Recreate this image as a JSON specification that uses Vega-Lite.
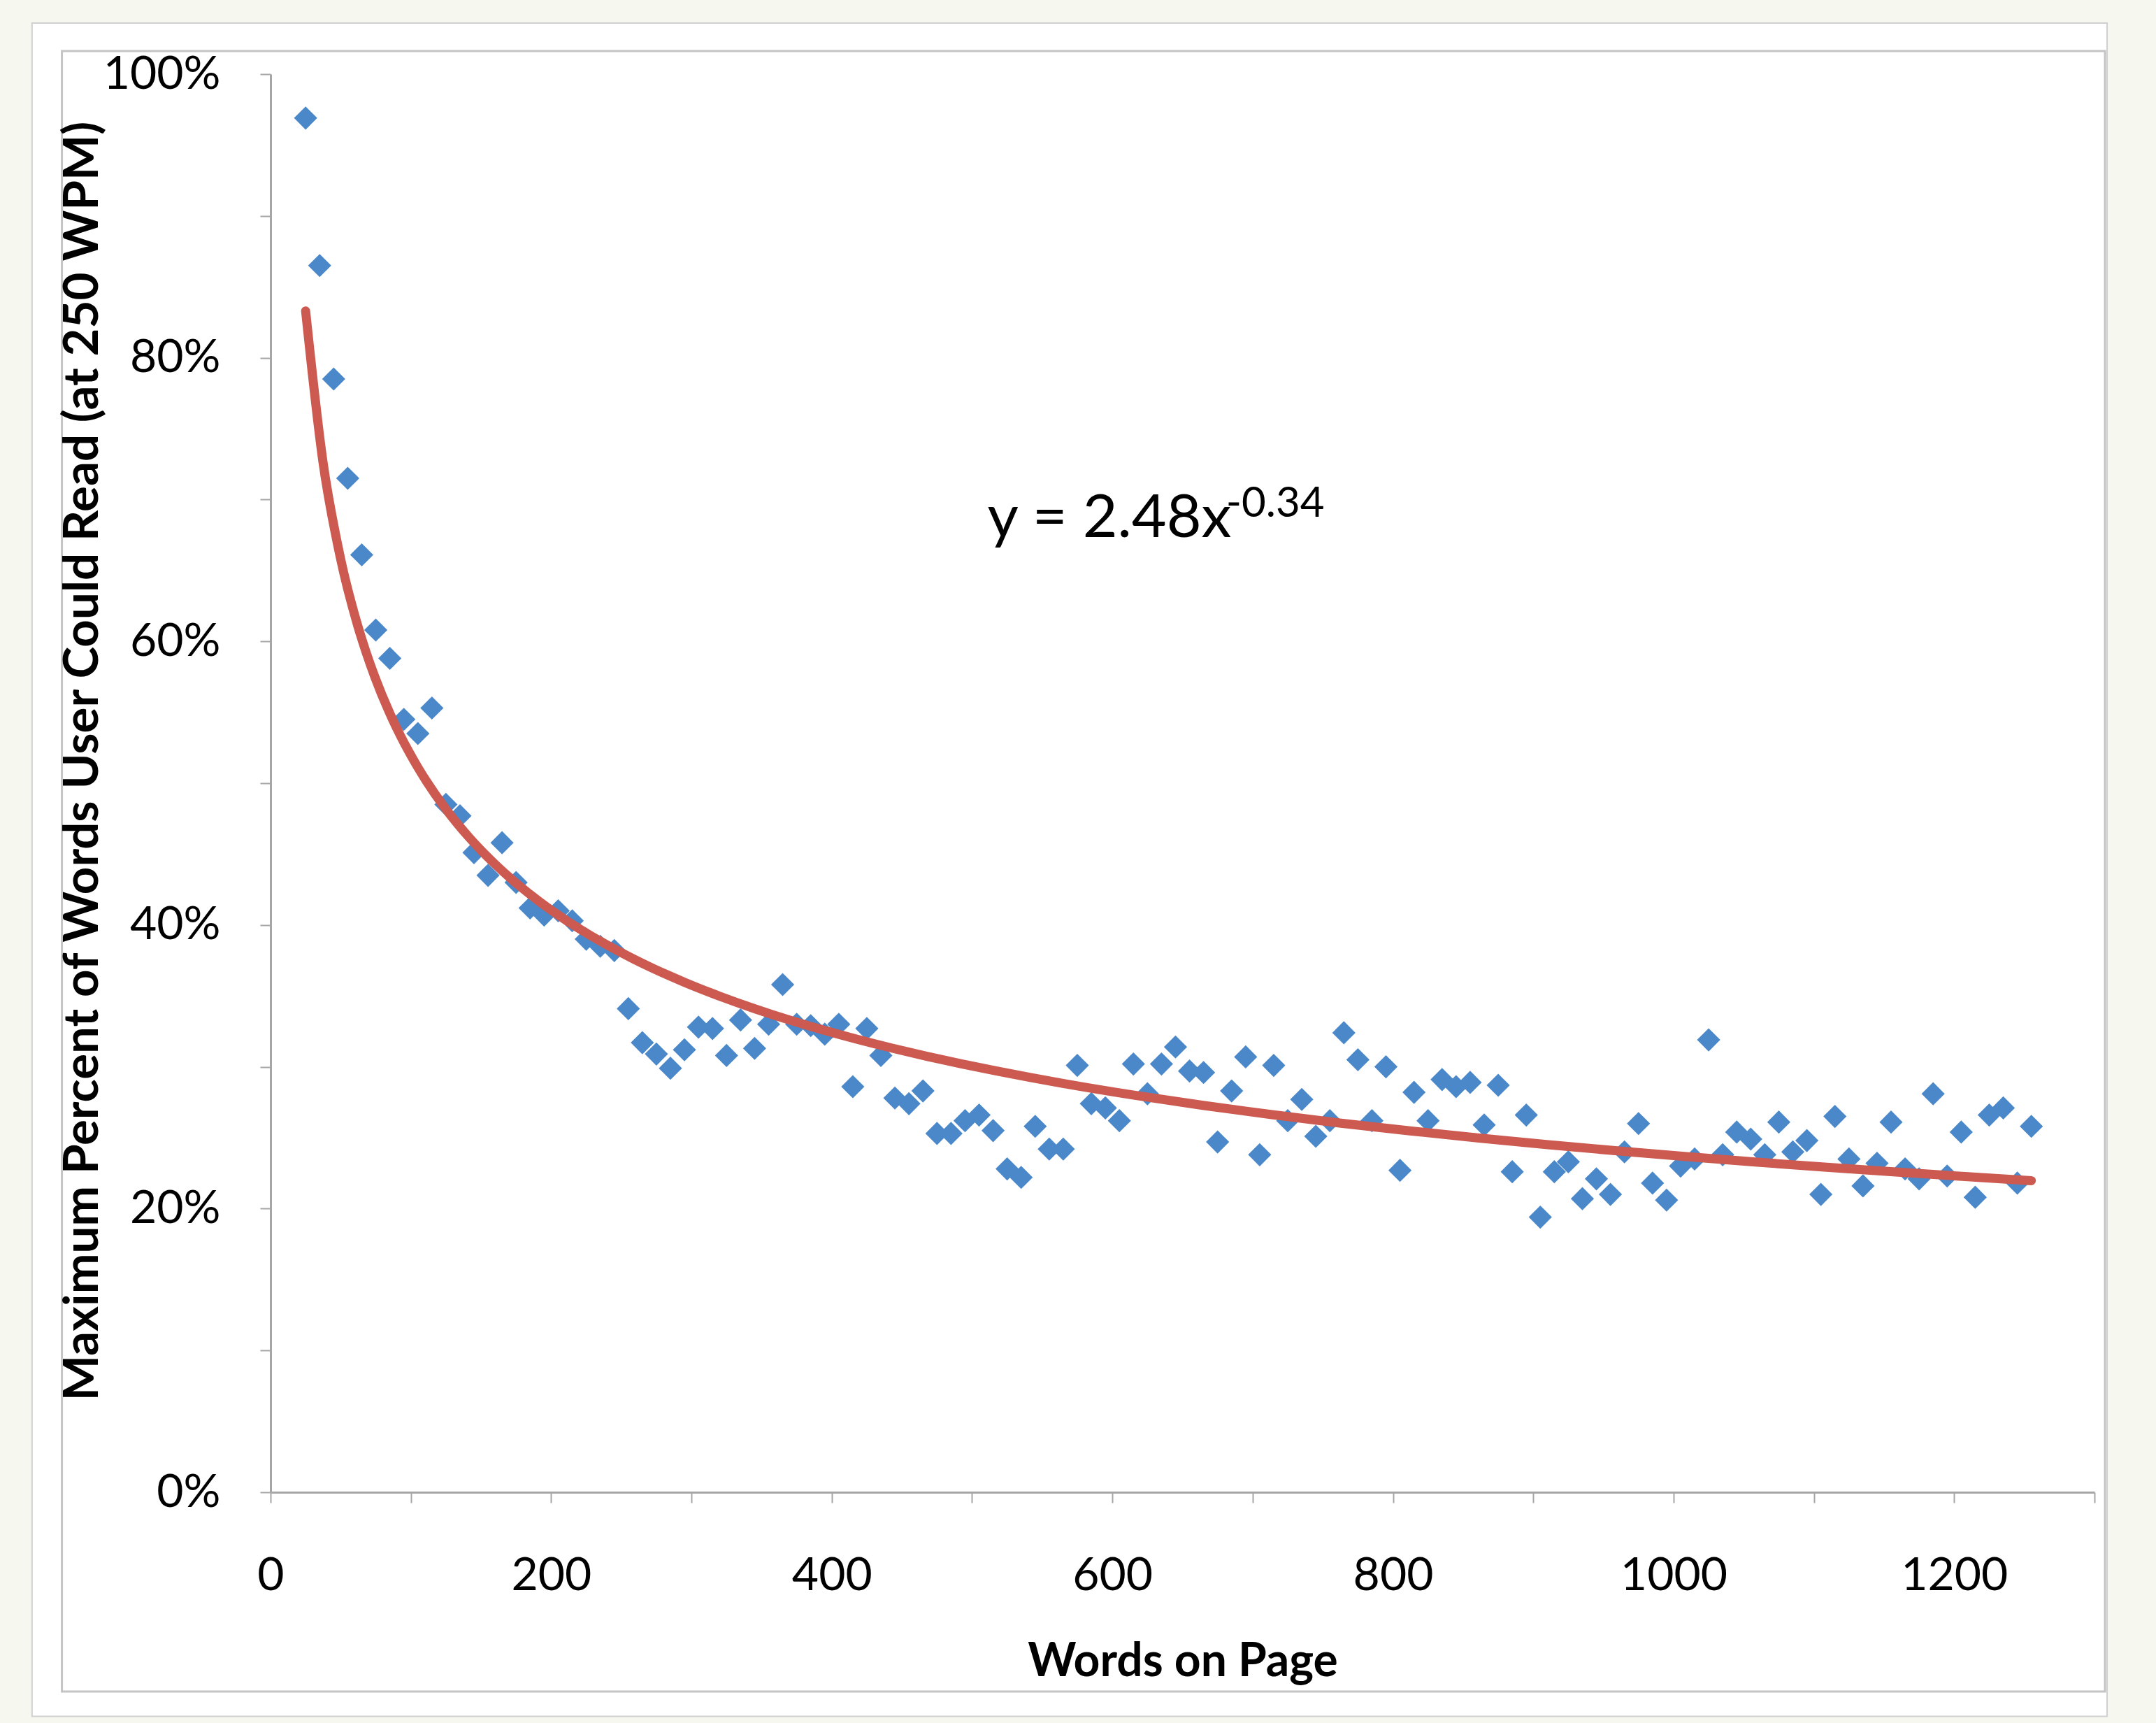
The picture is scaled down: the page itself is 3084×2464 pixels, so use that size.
{
  "$schema": "https://vega.github.io/schema/vega-lite/v6.json",
  "width": 2609,
  "height": 2028,
  "autosize": {"type": "none"},
  "padding": {"left": 387, "top": 106, "right": 88, "bottom": 330},
  "background": "#f6f8ef",
  "config": {"view": {"stroke": null}, "font": "Lato"},
  "data": {"values": [
    {"x":25,"y":0.969},{"x":35,"y":0.865},{"x":45,"y":0.785},{"x":55,"y":0.715},{"x":65,"y":0.661},
    {"x":75,"y":0.608},{"x":85,"y":0.588},{"x":95,"y":0.545},{"x":105,"y":0.535},{"x":115,"y":0.553},
    {"x":125,"y":0.485},{"x":135,"y":0.477},{"x":145,"y":0.451},{"x":155,"y":0.435},{"x":165,"y":0.458},
    {"x":175,"y":0.430},{"x":185,"y":0.412},{"x":195,"y":0.407},{"x":205,"y":0.410},{"x":215,"y":0.403},
    {"x":225,"y":0.390},{"x":235,"y":0.385},{"x":245,"y":0.382},{"x":255,"y":0.341},{"x":265,"y":0.317},
    {"x":275,"y":0.309},{"x":285,"y":0.299},{"x":295,"y":0.312},{"x":305,"y":0.328},{"x":315,"y":0.327},
    {"x":325,"y":0.308},{"x":335,"y":0.333},{"x":345,"y":0.313},{"x":355,"y":0.330},{"x":365,"y":0.358},
    {"x":375,"y":0.330},{"x":385,"y":0.329},{"x":395,"y":0.323},{"x":405,"y":0.330},{"x":415,"y":0.286},
    {"x":425,"y":0.327},{"x":435,"y":0.308},{"x":445,"y":0.278},{"x":455,"y":0.274},{"x":465,"y":0.283},
    {"x":475,"y":0.253},{"x":485,"y":0.253},{"x":495,"y":0.262},{"x":505,"y":0.266},{"x":515,"y":0.255},
    {"x":525,"y":0.228},{"x":535,"y":0.222},{"x":545,"y":0.258},{"x":555,"y":0.242},{"x":565,"y":0.242},
    {"x":575,"y":0.301},{"x":585,"y":0.274},{"x":595,"y":0.271},{"x":605,"y":0.262},{"x":615,"y":0.302},
    {"x":625,"y":0.281},{"x":635,"y":0.302},{"x":645,"y":0.314},{"x":655,"y":0.297},{"x":665,"y":0.296},
    {"x":675,"y":0.247},{"x":685,"y":0.283},{"x":695,"y":0.307},{"x":705,"y":0.238},{"x":715,"y":0.301},
    {"x":725,"y":0.262},{"x":735,"y":0.277},{"x":745,"y":0.251},{"x":755,"y":0.262},{"x":765,"y":0.324},
    {"x":775,"y":0.305},{"x":785,"y":0.262},{"x":795,"y":0.300},{"x":805,"y":0.227},{"x":815,"y":0.282},
    {"x":825,"y":0.262},{"x":835,"y":0.291},{"x":845,"y":0.286},{"x":855,"y":0.289},{"x":865,"y":0.259},
    {"x":875,"y":0.287},{"x":885,"y":0.226},{"x":895,"y":0.266},{"x":905,"y":0.194},{"x":915,"y":0.226},
    {"x":925,"y":0.233},{"x":935,"y":0.207},{"x":945,"y":0.221},{"x":955,"y":0.210},{"x":965,"y":0.240},
    {"x":975,"y":0.260},{"x":985,"y":0.218},{"x":995,"y":0.206},{"x":1005,"y":0.230},{"x":1015,"y":0.235},
    {"x":1025,"y":0.319},{"x":1035,"y":0.238},{"x":1045,"y":0.254},{"x":1055,"y":0.249},{"x":1065,"y":0.238},
    {"x":1075,"y":0.261},{"x":1085,"y":0.240},{"x":1095,"y":0.248},{"x":1105,"y":0.210},{"x":1115,"y":0.265},
    {"x":1125,"y":0.235},{"x":1135,"y":0.216},{"x":1145,"y":0.232},{"x":1155,"y":0.261},{"x":1165,"y":0.228},
    {"x":1175,"y":0.221},{"x":1185,"y":0.281},{"x":1195,"y":0.223},{"x":1205,"y":0.254},{"x":1215,"y":0.208},
    {"x":1225,"y":0.266},{"x":1235,"y":0.271},{"x":1245,"y":0.218},{"x":1255,"y":0.258}
  ]},
  "layer": [
    {
      "data": {"values": [{}]},
      "mark": {"type": "rect", "fill": "#ffffff", "stroke": "#d0d0d0", "strokeWidth": 2, "clip": false},
      "encoding": {
        "x": {"datum": -170},
        "x2": {"datum": 1309},
        "y": {"datum": 1.036},
        "y2": {"datum": -0.158}
      }
    },
    {
      "data": {"values": [{}]},
      "mark": {"type": "rect", "fill": "#ffffff", "stroke": "#c4c4c4", "strokeWidth": 3, "clip": false},
      "encoding": {
        "x": {"datum": -148.7},
        "x2": {"datum": 1307.5},
        "y": {"datum": 1.0163},
        "y2": {"datum": -0.1405}
      }
    },
    {
      "mark": {"type": "point", "shape": "diamond", "filled": true, "size": 1100, "color": "#4a88c9", "opacity": 1},
      "encoding": {
        "x": {
          "field": "x", "type": "quantitative",
          "scale": {"domain": [0, 1300], "nice": false, "zero": false},
          "axis": {
            "zindex": 1,
            "title": "Words on Page",
            "format": "d",
            "values": [0,100,200,300,400,500,600,700,800,900,1000,1100,1200,1300],
            "labelExpr": "datum.value % 200 == 0 ? datum.label : ''",
            "labelOverlap": false,
            "labelBound": false,
            "labelFlush": false,
            "grid": false,
            "domainColor": "#a6a6a6", "domainWidth": 3,
            "tickColor": "#a6a6a6", "tickWidth": 2, "tickSize": 15,
            "labelFontSize": 66, "labelColor": "#000000", "labelPadding": 72, "labelFont": "Lato",
            "titleFontSize": 66, "titleFontWeight": "bold", "titleColor": "#000000", "titlePadding": 58, "titleFont": "Lato"
          }
        },
        "y": {
          "field": "y", "type": "quantitative",
          "scale": {"domain": [0, 1], "nice": false},
          "axis": {
            "zindex": 1,
            "title": "Maximum Percent of Words User Could Read (at 250 WPM)",
            "values": [0,0.1,0.2,0.3,0.4,0.5,0.6,0.7,0.8,0.9,1],
            "labelExpr": "round(datum.value*10) % 2 == 0 ? round(datum.value*100) + '%' : ''",
            "labelOverlap": false,
            "labelBound": false,
            "labelFlush": false,
            "grid": false,
            "domainColor": "#a6a6a6", "domainWidth": 3,
            "tickColor": "#a6a6a6", "tickWidth": 2, "tickSize": 15,
            "labelFontSize": 66, "labelColor": "#000000", "labelPadding": 57, "labelFont": "Lato",
            "titleFontSize": 69, "titleFontWeight": "bold", "titleColor": "#000000", "titlePadding": 34, "titleFont": "Lato",
            "titleY": 982
          }
        }
      }
    },
    {
      "transform": [{"regression": "y", "on": "x", "method": "pow", "extent": [25, 1255]}],
      "mark": {"type": "line", "color": "#cc5a50", "strokeWidth": 13, "strokeCap": "round", "interpolate": "monotone"},
      "encoding": {
        "x": {"field": "x", "type": "quantitative"},
        "y": {"field": "y", "type": "quantitative"}
      }
    },
    {
      "data": {"values": [{}]},
      "mark": {"type": "text", "text": "y = 2.48x", "align": "left", "baseline": "alphabetic", "fontSize": 86, "font": "Lato", "color": "#000000"},
      "encoding": {"x": {"datum": 511}, "y": {"datum": 0.6736}}
    },
    {
      "data": {"values": [{}]},
      "mark": {"type": "text", "text": "-0.34", "align": "left", "baseline": "alphabetic", "fontSize": 60, "font": "Lato", "color": "#000000"},
      "encoding": {"x": {"datum": 681}, "y": {"datum": 0.688}}
    }
  ]
}
